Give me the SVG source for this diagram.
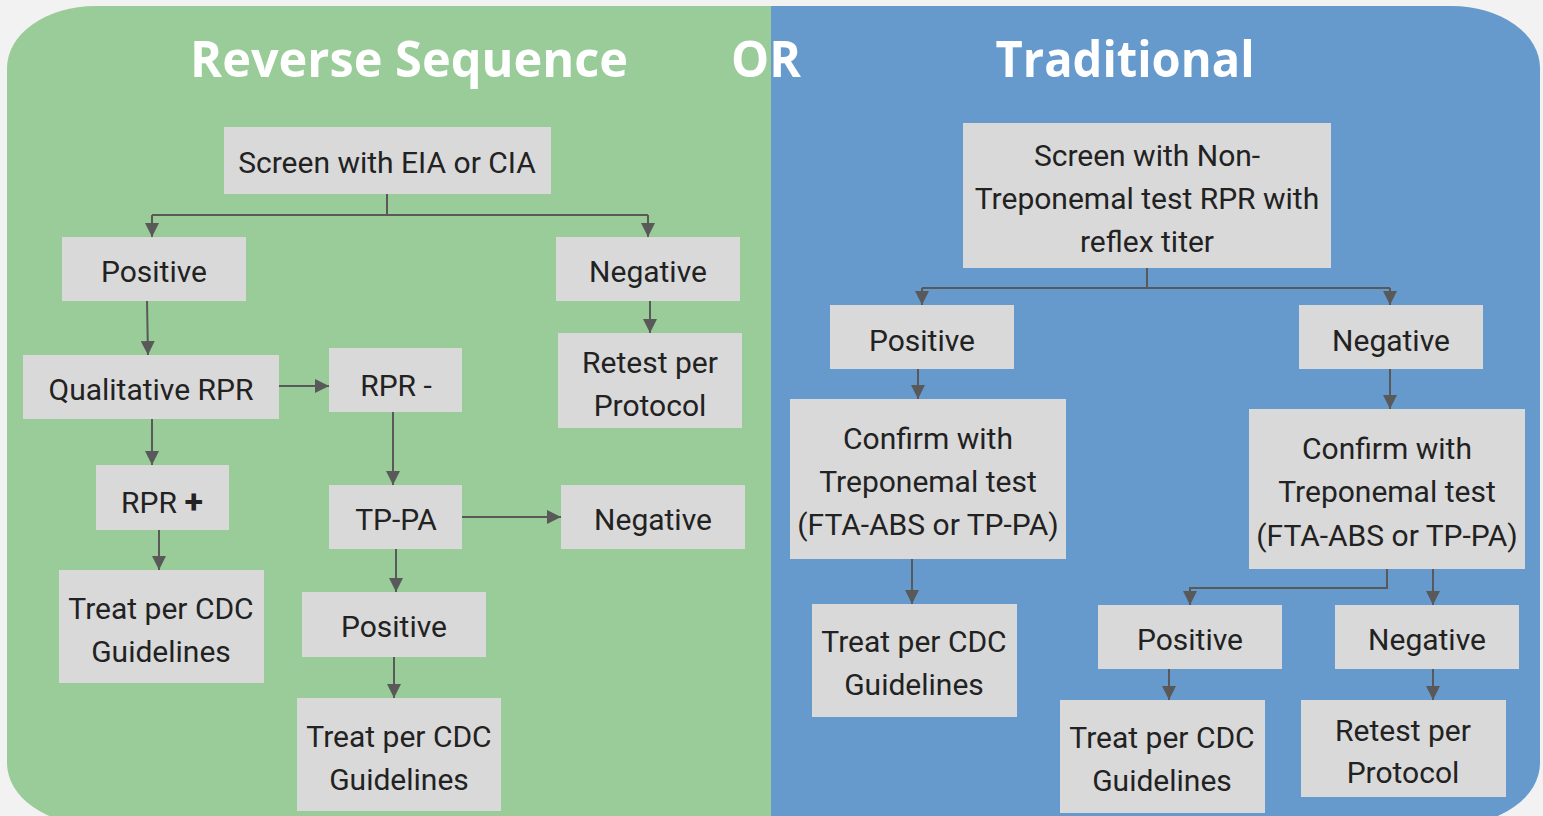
<svg xmlns="http://www.w3.org/2000/svg" width="1543" height="816" viewBox="0 0 1543 816">
<style>
.box{fill:#d9d9d9}
.t{font-family:Roboto,"Liberation Sans",sans-serif;font-size:30px;fill:#222222;text-anchor:middle}
.title{font-family:"Open Sans","Liberation Sans",sans-serif;font-weight:bold;font-size:50px;fill:#ffffff;text-anchor:middle}
.c{fill:none;stroke:#595959;stroke-width:2;marker-end:url(#ah)}
.l{fill:none;stroke:#595959;stroke-width:2}
</style>
<defs>
<marker id="ah" viewBox="0 0 10 10" refX="10" refY="5" markerWidth="7" markerHeight="7" orient="auto" markerUnits="strokeWidth">
<path d="M0,0 L10,5 L0,10 z" fill="#595959"/>
</marker>
<clipPath id="panel">
<path d="M95,6 H1452 A88,62 0 0 1 1540,68 V763 A88,62 0 0 1 1452,825 H95 A88,62 0 0 1 7,763 V68 A88,62 0 0 1 95,6 Z"/>
</clipPath>
</defs>
<rect width="1543" height="816" fill="#f2f2f2"/>
<g id="background" clip-path="url(#panel)">
<rect x="0" y="0" width="771" height="830" fill="#99cc99"/>
<rect x="771" y="0" width="780" height="830" fill="#6699cc"/>
</g>
<g id="titles">
<text class="title" x="409" y="77" textLength="438" lengthAdjust="spacingAndGlyphs">Reverse Sequence</text>
<text class="title" x="766" y="77" textLength="70" lengthAdjust="spacingAndGlyphs">OR</text>
<text class="title" x="1125" y="77" textLength="259" lengthAdjust="spacingAndGlyphs">Traditional</text>
</g>
<g id="connectors">
<path class="l" d="M387,194 V215 M152,215 H648"/>
<path class="c" d="M152,215 V237"/>
<path class="c" d="M648,215 V237"/>
<path class="c" d="M147,301 L148,355"/>
<path class="c" d="M279,386 H329"/>
<path class="c" d="M152,419 V465"/>
<path class="c" d="M393,412 V485"/>
<path class="c" d="M650,301 V333"/>
<path class="c" d="M159,530 V570"/>
<path class="c" d="M462,517 H561"/>
<path class="c" d="M396,549 V592"/>
<path class="c" d="M394,657 V698"/>
<path class="l" d="M1147,268 V288 M922,288 H1390"/>
<path class="c" d="M922,288 V305"/>
<path class="c" d="M1390,288 V305"/>
<path class="c" d="M918,369 V399"/>
<path class="c" d="M1390,369 V409"/>
<path class="c" d="M912,559 V604"/>
<path class="c" d="M1387,569 V588 H1190 V605"/>
<path class="c" d="M1433,569 V605"/>
<path class="c" d="M1169,669 V700"/>
<path class="c" d="M1433,669 V700"/>
</g>
<g id="n1"><rect class="box" x="224" y="127" width="327" height="67"/><text class="t" x="387" y="173">Screen with EIA or CIA</text></g>
<g id="n2"><rect class="box" x="62" y="237" width="184" height="64"/><text class="t" x="154" y="282">Positive</text></g>
<g id="n3"><rect class="box" x="556" y="237" width="184" height="64"/><text class="t" x="648" y="282">Negative</text></g>
<g id="n4"><rect class="box" x="23" y="355" width="256" height="64"/><text class="t" x="151" y="400">Qualitative RPR</text></g>
<g id="n5"><rect class="box" x="329" y="348" width="133" height="64"/><text class="t" x="396" y="396">RPR -</text></g>
<g id="n6"><rect class="box" x="558" y="333" width="184" height="95"/><text class="t" x="650" y="373">Retest per</text><text class="t" x="650" y="416">Protocol</text></g>
<g id="n7"><rect class="box" x="96" y="465" width="133" height="65"/><text class="t" x="162" y="513">RPR <tspan font-size="34" font-weight="bold">+</tspan></text></g>
<g id="n8"><rect class="box" x="329" y="485" width="133" height="64"/><text class="t" x="396" y="530">TP-PA</text></g>
<g id="n9"><rect class="box" x="561" y="485" width="184" height="64"/><text class="t" x="653" y="530">Negative</text></g>
<g id="n10"><rect class="box" x="59" y="570" width="205" height="113"/><text class="t" x="161" y="619">Treat per CDC</text><text class="t" x="161" y="662">Guidelines</text></g>
<g id="n11"><rect class="box" x="302" y="592" width="184" height="65"/><text class="t" x="394" y="637">Positive</text></g>
<g id="n12"><rect class="box" x="297" y="698" width="204" height="113"/><text class="t" x="399" y="747">Treat per CDC</text><text class="t" x="399" y="790">Guidelines</text></g>
<g id="n13"><rect class="box" x="963" y="123" width="368" height="145"/><text class="t" x="1147" y="166">Screen with Non-</text><text class="t" x="1147" y="209">Treponemal test RPR with</text><text class="t" x="1147" y="252">reflex titer</text></g>
<g id="n14"><rect class="box" x="830" y="305" width="184" height="64"/><text class="t" x="922" y="351">Positive</text></g>
<g id="n15"><rect class="box" x="1299" y="305" width="184" height="64"/><text class="t" x="1391" y="351">Negative</text></g>
<g id="n16"><rect class="box" x="790" y="399" width="276" height="160"/><text class="t" x="928" y="449">Confirm with</text><text class="t" x="928" y="492">Treponemal test</text><text class="t" x="928" y="535">(FTA-ABS or TP-PA)</text></g>
<g id="n17"><rect class="box" x="1249" y="409" width="276" height="160"/><text class="t" x="1387" y="459">Confirm with</text><text class="t" x="1387" y="502">Treponemal test</text><text class="t" x="1387" y="546">(FTA-ABS or TP-PA)</text></g>
<g id="n18"><rect class="box" x="812" y="604" width="205" height="113"/><text class="t" x="914" y="652">Treat per CDC</text><text class="t" x="914" y="695">Guidelines</text></g>
<g id="n19"><rect class="box" x="1098" y="605" width="184" height="64"/><text class="t" x="1190" y="650">Positive</text></g>
<g id="n20"><rect class="box" x="1335" y="605" width="184" height="64"/><text class="t" x="1427" y="650">Negative</text></g>
<g id="n21"><rect class="box" x="1060" y="700" width="205" height="113"/><text class="t" x="1162" y="748">Treat per CDC</text><text class="t" x="1162" y="791">Guidelines</text></g>
<g id="n22"><rect class="box" x="1301" y="700" width="205" height="97"/><text class="t" x="1403" y="741">Retest per</text><text class="t" x="1403" y="783">Protocol</text></g>
</svg>
